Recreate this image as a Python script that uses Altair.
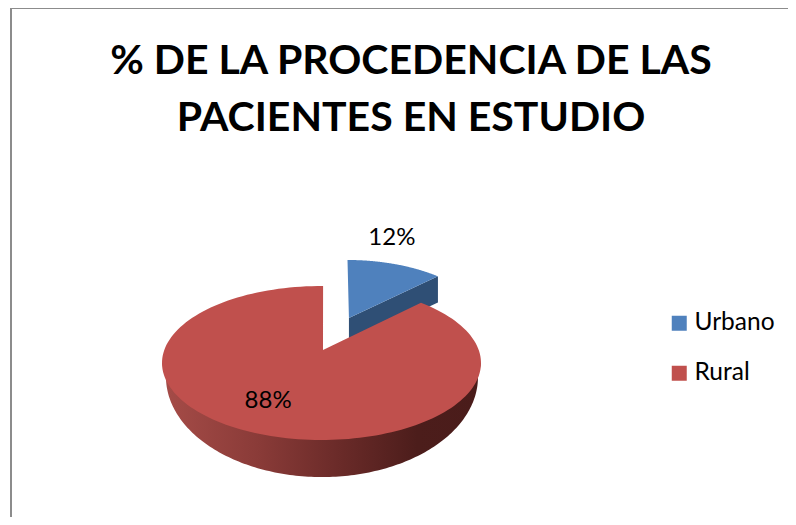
import numpy as np
import pandas as pd
import altair as alt

# --- chart values ---
categories = ["Urbano", "Rural"]
shares = [12, 88]
slice_labels = ["12%", "88%"]
title_lines = ["% DE LA PROCEDENCIA DE LAS", "PACIENTES EN ESTUDIO"]
colors = ["#4F81BD", "#C0504D"]

FONT = "Lato"
W, H = 780, 509

# the first slice's visible sweep is foreshortened by the 3-D view
edge = np.radians(shares[0] / sum(shares) * 360 * 0.893)
full = 2 * np.pi


def rim(cx, cy, rx, ry, a0, a1, n=160):
    t = np.linspace(a0, a1, n)
    return cx + rx * np.sin(t), cy + ry * np.cos(t)


def frame(xs, ys):
    return pd.DataFrame({"x": xs, "y": ys, "i": np.arange(len(xs))})


x_enc = alt.X("x:Q", axis=None, scale=alt.Scale(domain=[-1, 1], range=[154, 473], nice=False, zero=False))
y_enc = alt.Y("y:Q", axis=None, scale=alt.Scale(domain=[-1, 1], range=[432, 278], nice=False, zero=False))


def poly(df, fill):
    return alt.Chart(df).mark_line(fill=fill, strokeWidth=0, clip=False).encode(
        x=x_enc, y=y_enc, order=alt.Order("i:Q")
    )


# Urbano slice (pulled out)
bx, by = rim(0.163, 0.364, 0.909, 0.974, 0, edge)
b_apex = (0.172, 0.584)
b_depth = 0.34
blue_top = frame(np.r_[b_apex[0], bx], np.r_[b_apex[1], by])
blue_side = frame(
    [b_apex[0], bx[-1], bx[-1], b_apex[0]],
    [b_apex[1], by[-1], by[-1] - b_depth, b_apex[1] - b_depth],
)

# Rural slice
rx_, ry_ = rim(0, 0, 1, 1, edge, full + 0.01)
r_apex = (0.0094, 0.169)
red_top = frame(np.r_[r_apex[0], rx_], np.r_[r_apex[1], ry_])
sx, sy = rim(0.003, -0.182, 0.978, 1.299, 1.5 * np.pi, 0.5 * np.pi)
red_side = frame(np.r_[-1, sx, 1], np.r_[0, sy, 0])

side_gradient = alt.Gradient(
    gradient="linear", x1=0, x2=1, y1=0, y2=0,
    stops=[
        alt.GradientStop(offset=0, color="#A64C48"),
        alt.GradientStop(offset=0.3, color="#8A3B38"),
        alt.GradientStop(offset=0.55, color="#6B2B29"),
        alt.GradientStop(offset=0.8, color="#4C1D1B"),
        alt.GradientStop(offset=1, color="#4A1C1A"),
    ],
)

# value labels, anchored on each slice's mid angle
mid = [shares[0] / 200 * full, (shares[0] / 2 + 50) / 100 * full]
lab1 = pd.DataFrame({"x": [0.163 + 0.909 * np.sin(mid[0])], "y": [0.364 + 0.974 * np.cos(mid[0])], "t": [slice_labels[0]]})
lab2 = pd.DataFrame({"x": [0.5 * np.sin(mid[1])], "y": [0.5 * np.cos(mid[1])], "t": [slice_labels[1]]})
text1 = alt.Chart(lab1).mark_text(font=FONT, fontSize=24, color="#000", dx=-9, dy=-27).encode(x=x_enc, y=y_enc, text="t:N")
text2 = alt.Chart(lab2).mark_text(font=FONT, fontSize=24, color="#000", dx=-24, dy=2).encode(x=x_enc, y=y_enc, text="t:N")

title_df = pd.DataFrame({"t": title_lines, "row": [0, 1]})
title_layer = (
    alt.Chart(title_df)
    .mark_text(font=FONT, fontWeight="bold", fontSize=41, color="#000", baseline="alphabetic", align="center")
    .encode(
        x=alt.value(403),
        y=alt.Y("row:Q", axis=None, scale=alt.Scale(domain=[0, 1], range=[66, 123], nice=False, zero=False)),
        text="t:N",
    )
)

rule_left = alt.Chart(pd.DataFrame({"a": [0]})).mark_rule(color="#8C8C8C", strokeWidth=2).encode(
    x=alt.value(3), y=alt.value(0), y2=alt.value(H)
)
rule_top = alt.Chart(pd.DataFrame({"a": [0]})).mark_rule(color="#8C8C8C", strokeWidth=2).encode(
    y=alt.value(0), x=alt.value(3), x2=alt.value(W)
)

legend_layer = alt.Chart(pd.DataFrame({"c": categories})).mark_square(size=0).encode(
    color=alt.Color(
        "c:N",
        scale=alt.Scale(domain=categories, range=colors),
        legend=alt.Legend(
            title=None, orient="none", legendX=659, legendY=303,
            symbolType="square", symbolSize=225, symbolStrokeWidth=0, symbolOpacity=1,
            labelFont=FONT, labelFontSize=24.5, labelColor="#000", labelOffset=3,
            rowPadding=25, padding=0,
        ),
        sort=categories,
    )
)

chart = alt.layer(
    rule_left, rule_top,
    poly(blue_side, "#2F4F75"),
    poly(blue_top, colors[0]),
    poly(red_side, side_gradient),
    poly(red_top, colors[1]),
    text1, text2, legend_layer,
    title_layer,
).resolve_scale(y="independent").properties(
    width=W, height=H, padding=0, autosize=alt.AutoSizeParams(type="none"), background="white"
).configure_view(stroke=None)

chart.save("out.html", embed_options={"renderer": "svg", "actions": False})
